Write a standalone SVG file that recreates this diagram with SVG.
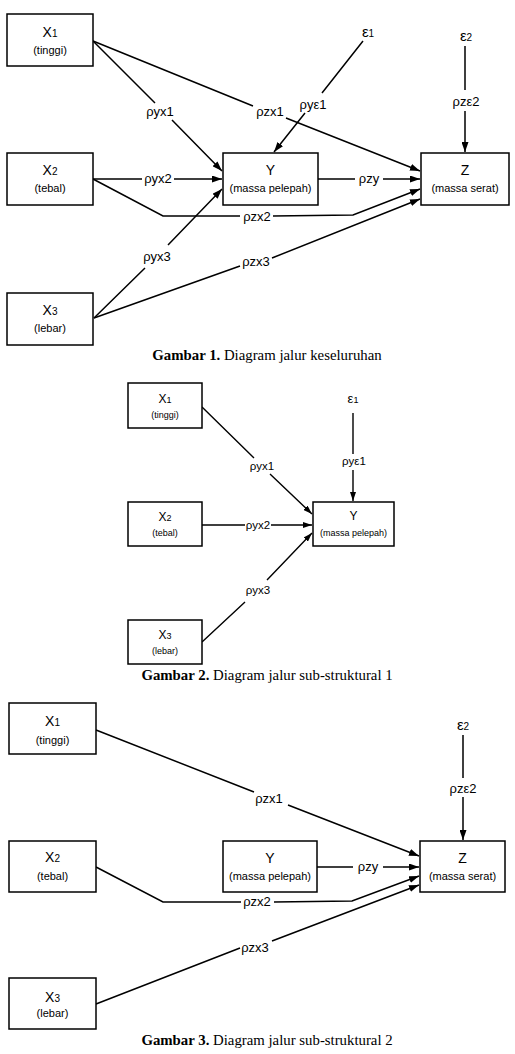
<svg xmlns="http://www.w3.org/2000/svg" width="515" height="1054" viewBox="0 0 515 1054">
<style>
.box{fill:#fff;stroke:#000;stroke-width:1.5}
.ln{fill:none;stroke:#000;stroke-width:1.5;marker-end:url(#ah)}
.ln2{fill:none;stroke:#000;stroke-width:1.4;marker-end:url(#ah2)}
.t{font-family:"Liberation Sans",Arial,sans-serif;text-anchor:middle;fill:#000}
.big{font-size:14px}
.sub{font-size:11px}
.lab{font-size:13px}
.eps{font-size:15px}
.big2{font-size:12px}
.sub2{font-size:9px}
.lab2{font-size:11.5px}
.eps2{font-size:13px}
.cap{font-family:"Liberation Serif","Times New Roman",serif;font-size:14.8px;text-anchor:middle;fill:#000}
</style>
<defs>
<marker id="ah" markerUnits="userSpaceOnUse" markerWidth="10" markerHeight="7" refX="10" refY="3.5" orient="auto"><path d="M0,0 L10,3.5 L0,7 z" fill="#000"/></marker>
<marker id="ah2" markerUnits="userSpaceOnUse" markerWidth="9" markerHeight="6" refX="9" refY="3" orient="auto"><path d="M0,0 L9,3 L0,6 z" fill="#000"/></marker>
</defs>
<rect width="515" height="1054" fill="#fff"/>

<!-- Figure 1 -->
<g id="fig1-connectors">
<path class="ln" d="M93,41 L155,103 M172,120 L222,171"/>
<path class="ln" d="M93,41 L253,106 M286,118 L420,171"/>
<path class="ln" d="M363,41 L322,93 M305,113 L274,152"/>
<path class="ln" d="M465,46 L465,90 M465,111 L465,152"/>
<path class="ln" d="M93,179 L142,179 M174,179 L222,179"/>
<path class="ln" d="M318,179 L355,179 M383,179 L420,179"/>
<path class="ln" d="M93,179 L163,216 L240,216 M273,216 L353,215 L420,189"/>
<path class="ln" d="M94,318 L145,268 M168,245 L222,189"/>
<path class="ln" d="M94,318 L240,266 M272,258 L420,199"/>
<text class="t lab" x="160" y="116">ρyx1</text>
<text class="t lab" x="270" y="116">ρzx1</text>
<text class="t lab" x="313" y="109">ρyε1</text>
<text class="t lab" x="466" y="106">ρzε2</text>
<text class="t lab" x="158" y="183">ρyx2</text>
<text class="t lab" x="369" y="183">ρzy</text>
<text class="t lab" x="257" y="221">ρzx2</text>
<text class="t lab" x="157" y="261">ρyx3</text>
<text class="t lab" x="256" y="266">ρzx3</text>
</g>
<g id="f1-x1"><rect class="box" x="7" y="14" width="86" height="52"/><text class="t big" x="50" y="37">X<tspan font-size="10">1</tspan></text><text class="t sub" x="50" y="54">(tinggi)</text></g>
<g id="f1-x2"><rect class="box" x="7" y="153" width="86" height="52"/><text class="t big" x="50" y="175">X<tspan font-size="10">2</tspan></text><text class="t sub" x="50" y="192">(tebal)</text></g>
<g id="f1-x3"><rect class="box" x="7" y="293" width="86" height="52"/><text class="t big" x="50" y="315">X<tspan font-size="10">3</tspan></text><text class="t sub" x="50" y="332">(lebar)</text></g>
<g id="f1-y"><rect class="box" x="223" y="153" width="95" height="52"/><text class="t big" x="270.5" y="175">Y</text><text class="t sub" x="270.5" y="192">(massa pelepah)</text></g>
<g id="f1-z"><rect class="box" x="421" y="153" width="88" height="52"/><text class="t big" x="465" y="175">Z</text><text class="t sub" x="465" y="192">(massa serat)</text></g>
<g id="f1-e1"><text class="t eps" x="368" y="37">ε<tspan font-size="10">1</tspan></text></g>
<g id="f1-e2"><text class="t eps" x="466" y="41">ε<tspan font-size="10">2</tspan></text></g>
<text class="cap" x="267" y="360"><tspan font-weight="bold">Gambar 1.</tspan> Diagram jalur keseluruhan</text>

<!-- Figure 2 -->
<g id="fig2-connectors">
<path class="ln2" d="M202,407 L254,458 M270,474 L312,514"/>
<path class="ln2" d="M202,525 L245,525 M271,525 L312,525"/>
<path class="ln2" d="M202,642 L245,602 M267,580 L312,533"/>
<path class="ln2" d="M353,413 L353,454 M353,470 L353,501"/>
<text class="t lab2" x="262" y="470">ρyx1</text>
<text class="t lab2" x="258" y="529">ρyx2</text>
<text class="t lab2" x="258" y="594">ρyx3</text>
<text class="t lab2" x="354" y="465">ρyε1</text>
</g>
<g id="f2-x1"><rect class="box" x="128" y="383" width="74" height="45"/><text class="t big2" x="165" y="403">X<tspan font-size="9">1</tspan></text><text class="t sub2" x="165" y="418">(tinggi)</text></g>
<g id="f2-x2"><rect class="box" x="128" y="502" width="74" height="44"/><text class="t big2" x="165" y="521">X<tspan font-size="9">2</tspan></text><text class="t sub2" x="165" y="536">(tebal)</text></g>
<g id="f2-x3"><rect class="box" x="128" y="620" width="74" height="44"/><text class="t big2" x="165" y="639">X<tspan font-size="9">3</tspan></text><text class="t sub2" x="165" y="654">(lebar)</text></g>
<g id="f2-y"><rect class="box" x="313" y="502" width="81" height="44"/><text class="t big2" x="353.5" y="520">Y</text><text class="t sub2" x="353.5" y="536">(massa pelepah)</text></g>
<g id="f2-e1"><text class="t eps2" x="353" y="403">ε<tspan font-size="9">1</tspan></text></g>
<text class="cap" x="267" y="680"><tspan font-weight="bold">Gambar 2.</tspan> Diagram jalur sub-struktural 1</text>

<!-- Figure 3 -->
<g id="fig3-connectors">
<path class="ln" d="M96,730 L254,792 M288,805 L419,856"/>
<path class="ln" d="M317,867 L353,867 M383,867 L419,867"/>
<path class="ln" d="M96,867 L163,902 L241,902 M274,902 L352,901 L419,876"/>
<path class="ln" d="M96,1004 L240,948 M272,941 L419,885"/>
<path class="ln" d="M463,735 L463,778 M463,797 L463,840"/>
<text class="t lab" x="269" y="803">ρzx1</text>
<text class="t lab" x="368" y="871">ρzy</text>
<text class="t lab" x="257" y="906">ρzx2</text>
<text class="t lab" x="255" y="952">ρzx3</text>
<text class="t lab" x="463" y="793">ρzε2</text>
</g>
<g id="f3-x1"><rect class="box" x="9" y="703" width="87" height="51"/><text class="t big" x="52.5" y="726">X<tspan font-size="10">1</tspan></text><text class="t sub" x="52.5" y="744">(tinggi)</text></g>
<g id="f3-x2"><rect class="box" x="9" y="841" width="87" height="51"/><text class="t big" x="52.5" y="862">X<tspan font-size="10">2</tspan></text><text class="t sub" x="52.5" y="880">(tebal)</text></g>
<g id="f3-x3"><rect class="box" x="9" y="978" width="87" height="51"/><text class="t big" x="52.5" y="1002">X<tspan font-size="10">3</tspan></text><text class="t sub" x="52.5" y="1017">(lebar)</text></g>
<g id="f3-y"><rect class="box" x="223" y="841" width="94" height="51"/><text class="t big" x="270" y="863">Y</text><text class="t sub" x="270" y="880">(massa pelepah)</text></g>
<g id="f3-z"><rect class="box" x="420" y="841" width="85" height="51"/><text class="t big" x="462.5" y="863">Z</text><text class="t sub" x="462.5" y="880">(massa serat)</text></g>
<g id="f3-e2"><text class="t eps" x="463" y="730">ε<tspan font-size="10">2</tspan></text></g>
<text class="cap" x="267" y="1045"><tspan font-weight="bold">Gambar 3.</tspan> Diagram jalur sub-struktural 2</text>
</svg>
